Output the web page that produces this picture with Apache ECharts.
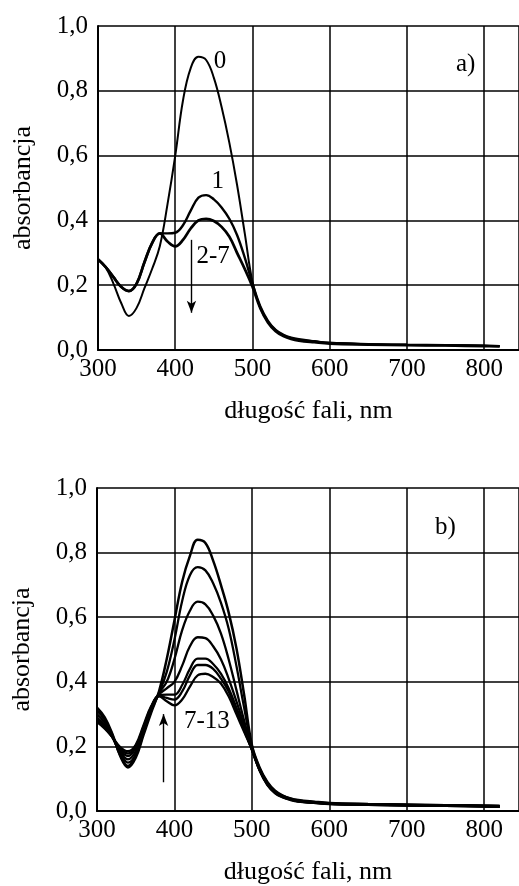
<!DOCTYPE html>
<html>
<head>
<meta charset="utf-8">
<script src="https://cdn.jsdelivr.net/npm/echarts@6/dist/echarts.min.js"></script>
<style>
	html, body { margin: 0; padding: 0; background: #fff; }
	#chart { width: 519px; height: 886px; }
</style>
</head>
<body>
<div id="chart"></div>
<script>
// wavelengths, nm
var wl = [300,310,320,330,340,350,360,370,380,390,400,410,420,430,440,450,460,470,480,490,500,510,520,530,540,550,560,580,600,650,700,750,800,820];

// a) curves 0, 1, 2-7
var a0  = [0.28,0.255,0.205,0.145,0.105,0.13,0.19,0.25,0.32,0.45,0.60,0.77,0.87,0.905,0.895,0.84,0.75,0.64,0.51,0.36,0.21,0.13,0.087,0.061,0.046,0.037,0.032,0.027,0.022,0.018,0.016,0.015,0.013,0.012];
var a1  = [0.28,0.256,0.225,0.195,0.182,0.205,0.27,0.33,0.36,0.36,0.362,0.385,0.43,0.47,0.478,0.465,0.44,0.405,0.355,0.285,0.205,0.135,0.09,0.062,0.047,0.038,0.033,0.027,0.022,0.018,0.016,0.015,0.013,0.012];
var a27 = [0.28,0.256,0.225,0.195,0.182,0.205,0.27,0.33,0.36,0.335,0.32,0.34,0.375,0.40,0.405,0.398,0.38,0.35,0.30,0.25,0.195,0.13,0.085,0.058,0.043,0.034,0.029,0.024,0.02,0.017,0.015,0.014,0.012,0.011];

// b) curves 7-13
var b7  = [0.275,0.255,0.228,0.198,0.185,0.205,0.265,0.325,0.355,0.34,0.327,0.345,0.385,0.42,0.425,0.415,0.395,0.355,0.30,0.245,0.19,0.125,0.08,0.055,0.042,0.034,0.029,0.025,0.021,0.019,0.017,0.016,0.014,0.013];
var b8  = [0.28,0.258,0.228,0.193,0.178,0.20,0.26,0.322,0.357,0.35,0.345,0.37,0.42,0.452,0.452,0.44,0.41,0.37,0.31,0.25,0.19,0.126,0.082,0.056,0.043,0.035,0.03,0.025,0.022,0.019,0.017,0.016,0.014,0.013];
var b9  = [0.285,0.262,0.228,0.188,0.17,0.195,0.255,0.32,0.358,0.36,0.36,0.39,0.44,0.472,0.472,0.455,0.425,0.38,0.32,0.255,0.19,0.127,0.083,0.057,0.044,0.036,0.03,0.026,0.022,0.02,0.018,0.016,0.015,0.014];
var b10 = [0.29,0.266,0.228,0.182,0.16,0.185,0.25,0.318,0.36,0.38,0.40,0.45,0.51,0.538,0.535,0.51,0.47,0.41,0.34,0.265,0.19,0.128,0.084,0.058,0.045,0.036,0.031,0.026,0.023,0.02,0.018,0.017,0.015,0.014];
var b11 = [0.30,0.274,0.23,0.177,0.15,0.175,0.245,0.315,0.365,0.40,0.47,0.56,0.62,0.648,0.64,0.605,0.55,0.47,0.375,0.28,0.195,0.13,0.086,0.06,0.046,0.037,0.032,0.027,0.023,0.021,0.019,0.017,0.016,0.015];
var b12 = [0.31,0.283,0.235,0.172,0.14,0.17,0.24,0.31,0.365,0.43,0.53,0.65,0.73,0.755,0.745,0.705,0.645,0.565,0.45,0.32,0.2,0.132,0.088,0.061,0.047,0.038,0.033,0.028,0.024,0.021,0.019,0.018,0.016,0.015];
var b13 = [0.32,0.29,0.238,0.17,0.135,0.165,0.235,0.305,0.37,0.47,0.59,0.71,0.79,0.84,0.83,0.775,0.70,0.615,0.505,0.36,0.205,0.135,0.09,0.063,0.048,0.039,0.034,0.029,0.025,0.022,0.02,0.018,0.017,0.016];

var xTicks = { min: 300, max: 845, interval: 100 };
var yTicks = { min: 0, max: 1, interval: 0.2 };

function pairs(vals){
	return wl.map(function(w, i){ return [w, vals[i]]; });
}

var font = 'Liberation Serif';

function xAxis(idx){
	return {
		type: 'value',
		gridIndex: idx,
		min: xTicks.min,
		max: xTicks.max,
		interval: xTicks.interval,
		name: 'długość fali, nm',
		nameLocation: 'middle',
		nameGap: 48,
		nameTextStyle: { fontFamily: font, fontSize: 26, color: '#000' },
		axisLine: { show: true, lineStyle: { color: '#000', width: 2 } },
		axisTick: { show: false },
		axisLabel: {
			showMaxLabel: false,
			margin: 7,
			fontFamily: font,
			fontSize: 25,
			color: '#000'
		},
		splitLine: { show: true, lineStyle: { color: '#000', width: 1.5 } }
	};
}

function yAxis(idx){
	return {
		type: 'value',
		gridIndex: idx,
		min: yTicks.min,
		max: yTicks.max,
		interval: yTicks.interval,
		name: 'absorbancja',
		nameLocation: 'middle',
		nameGap: 62,
		nameTextStyle: { fontFamily: font, fontSize: 26, color: '#000' },
		axisLine: { show: true, lineStyle: { color: '#000', width: 2 } },
		axisTick: { show: false },
		axisLabel: {
			margin: 10,
			fontFamily: font,
			fontSize: 25,
			color: '#000',
			formatter: function(v){ return v.toFixed(1).replace('.', ','); }
		},
		splitLine: { show: true, lineStyle: { color: '#000', width: 1.5 } }
	};
}

function curve(idx, vals, width){
	return {
		type: 'line',
		xAxisIndex: idx,
		yAxisIndex: idx,
		data: pairs(vals),
		smooth: 0.4,
		showSymbol: false,
		symbol: 'none',
		lineStyle: { color: '#000', width: width }
	};
}

function note(coord, text){
	return {
		coord: coord,
		symbol: 'circle',
		symbolSize: 1,
		itemStyle: { color: 'rgba(0,0,0,0)' },
		label: { show: true, position: 'inside', formatter: text, fontFamily: font, fontSize: 25, color: '#000' }
	};
}

function arrow(from, to){
	return [
		{ coord: from, symbol: 'none' },
		{ coord: to, symbol: 'arrow', symbolSize: [7, 12] }
	];
}

var myChart = echarts.init(document.getElementById('chart'));
var option = {
	animation: false,
	backgroundColor: '#fff',
	grid: [
		{ left: 98, top: 26, width: 421, height: 324 },
		{ left: 97, top: 488, width: 422, height: 324 }
	],
	xAxis: [xAxis(0), xAxis(1)],
	yAxis: [yAxis(0), yAxis(1)],
	series: [
		curve(0, a0, 2),
		curve(0, a1, 2.4),
		Object.assign(curve(0, a27, 2.8), {
			markPoint: {
				silent: true,
				data: [
					note([458, 0.89], '0'),
					note([455, 0.52], '1'),
					note([449, 0.29], '2-7'),
					note([776, 0.88], 'a)')
				]
			},
			markLine: {
				silent: true,
				label: { show: false },
				lineStyle: { color: '#000', width: 1.4, type: 'solid' },
				data: [arrow([421, 0.34], [421, 0.115])]
			}
		}),
		curve(1, b7, 2.3),
		curve(1, b8, 2.3),
		curve(1, b9, 2.3),
		curve(1, b10, 2.3),
		curve(1, b11, 2.3),
		curve(1, b12, 2.3),
		Object.assign(curve(1, b13, 2.5), {
			markPoint: {
				silent: true,
				data: [
					note([442, 0.276], '7-13'),
					note([750, 0.877], 'b)')
				]
			},
			markLine: {
				silent: true,
				label: { show: false },
				lineStyle: { color: '#000', width: 1.4, type: 'solid' },
				data: [arrow([386, 0.089], [386, 0.30])]
			}
		})
	]
};
myChart.setOption(option);
</script>
</body>
</html>
